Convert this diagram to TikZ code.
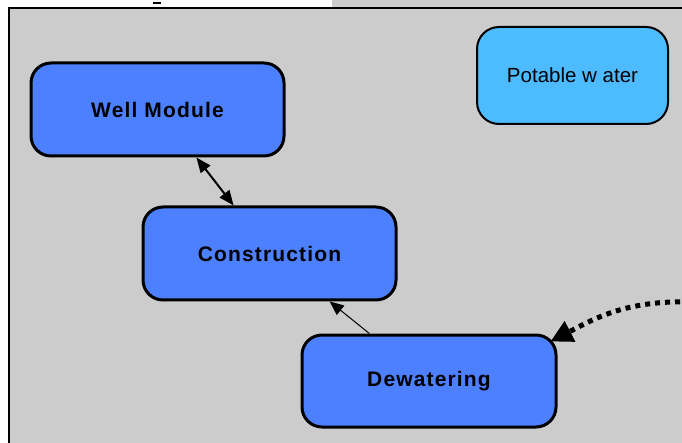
\documentclass[tikz,border=0pt]{standalone}
\usepackage{fontspec}
\setmainfont{Liberation Sans}
\newfontfamily\widebold[LetterSpace=5.5]{Liberation Sans}
\usetikzlibrary{arrows.meta,calc}
\definecolor{panelgray}{HTML}{CCCCCC}
\definecolor{modblue}{HTML}{4D80FF}
\definecolor{skyblue}{HTML}{4DBBFF}
\tikzset{
  modbox/.style={draw=black, line width=3pt, fill=modblue, rounded corners=20pt,
    inner sep=0pt, font=\widebold\fontsize{21}{24}\selectfont\bfseries},
  waterbox/.style={draw=black, line width=2pt, fill=skyblue, rounded corners=22pt,
    inner sep=0pt, font=\fontsize{20.5}{24}\selectfont},
  link/.style={draw=black},
}
\begin{document}
\begin{tikzpicture}[x=1pt,y=-1pt]
\useasboundingbox (0,0) rectangle (682,443);
% backdrop: white top strip, grey panel with black top and left rules
\fill[white] (0,0) rectangle (682,443);
\fill[panelgray] (332,0) rectangle (682,8);
\fill[panelgray] (9,8) rectangle (682,443);
\draw[line width=2.5pt] (9,445) -- (9,8) -- (684,8);
\draw[line width=2pt] (153,3) -- (161,3);

% modules
\node[modbox, minimum width=253pt, minimum height=93pt] (wm) at (157.5,109.5) {Well Module};
\node[modbox, minimum width=253pt, minimum height=93pt] (con) at (269.5,253.5) {Construction};
\node[modbox, minimum width=254pt, minimum height=92pt] (dw) at (429,381) {Dewatering};
\node[waterbox, minimum width=191pt, minimum height=97pt] (pw) at (572.5,75.5) {Potable w ater};

% connectors
\draw[link, line width=2pt, {Triangle[length=15pt,width=12pt]}-{Triangle[length=15pt,width=12pt]}]
  ($(wm.south west)!0.652!(wm.south east)$) -- ($(con.north west)!0.36!(con.north east)$);
\draw[link, line width=1pt, -{Triangle[length=14pt,width=12pt]}]
  ($(dw.north west)!0.268!(dw.north east)$) -- ($(con.south west)!0.735!(con.south east)$);
\coordinate (feed) at (690,302);
\draw[link, line width=5pt, dash pattern=on 5pt off 5pt, -{Triangle[length=22pt,width=22pt]}]
  (feed) .. controls (625,300) and (592,320) .. ($(dw.north east)+(-7,8)$);
\end{tikzpicture}
\end{document}
